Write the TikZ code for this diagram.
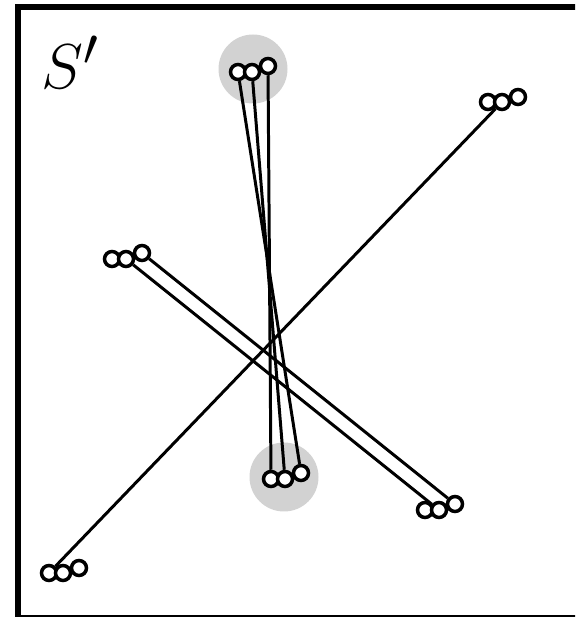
\documentclass[tikz,border=0pt]{standalone}

\begin{document}
\begin{tikzpicture}[
    x=0.02cm, y=-0.02cm,
    node distance=0.28cm,
    particle/.style={circle, draw, fill=white, line width=2pt, minimum size=0.3cm, inner sep=0pt},
    blob/.style={circle, fill=gray!35, minimum size=1.38cm, inner sep=0pt},
    track/.style={line width=1.7pt}
]
\useasboundingbox (0,0) rectangle (575,617);
\clip (0,0) rectangle (575,617);
\draw[line width=3.4pt] (18,7) rectangle (650,618);
\node[font=\fontsize{24.88}{30}\selectfont, scale=1.45] (frame) at (70,62) {$S'$};

% highlighted groups
\node[blob] (topblob) at (253,69) {};
\node[blob] (botblob) at (284,477) {};

% triplets
\node[particle] (t1) at (238,72) {};
\node[particle, right of=t1] (t2) {};
\node[particle, right of=t2, xshift=0.04cm, yshift=0.12cm] (t3) {};

\node[particle] (b1) at (271,479) {};
\node[particle, right of=b1] (b2) {};
\node[particle, right of=b2, xshift=0.04cm, yshift=0.12cm] (b3) {};

\node[particle] (r1) at (488,102) {};
\node[particle, right of=r1] (r2) {};
\node[particle, right of=r2, xshift=0.04cm, yshift=0.1cm] (r3) {};

\node[particle] (l1) at (49,573) {};
\node[particle, right of=l1] (l2) {};
\node[particle, right of=l2, xshift=0.04cm, yshift=0.1cm] (l3) {};

\node[particle] (u1) at (112,259) {};
\node[particle, right of=u1] (u2) {};
\node[particle, right of=u2, xshift=0.04cm, yshift=0.12cm] (u3) {};

\node[particle] (d1) at (425,510) {};
\node[particle, right of=d1] (d2) {};
\node[particle, right of=d2, xshift=0.04cm, yshift=0.12cm] (d3) {};

% connections
\draw[track] (t1) -- (b3);
\draw[track] (t2) -- (b2);
\draw[track] (t3) -- (b1);
\draw[track] (l1) -- (r2);
\draw[track] (u2) -- (d2);
\draw[track] (u3) -- (d3);
\end{tikzpicture}
\end{document}
